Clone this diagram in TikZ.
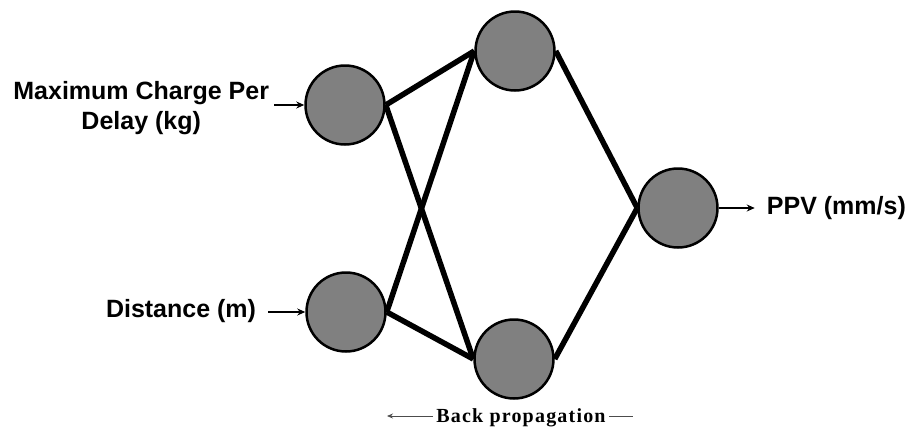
\documentclass[tikz,border=0pt]{standalone}
\usepackage{fontspec}
\setmainfont{Liberation Sans}
\newfontfamily\bpfont[LetterSpace=6]{Liberation Serif}
\usetikzlibrary{arrows.meta,positioning}
\definecolor{nodegray}{RGB}{128,128,128}

\begin{document}
\begin{tikzpicture}[x=1pt, y=-1pt,
  neuron/.style={draw, circle, fill=nodegray, line width=2.5pt, minimum size=79pt, inner sep=0pt},
  link/.style={line width=5.5pt},
  inarr/.style={-{Stealth[length=8pt,width=7pt]}, line width=2pt},
  lbl/.style={font=\fontsize{25}{30}\selectfont\bfseries, align=center, inner sep=5pt}
]
\useasboundingbox (0,0) rectangle (908,426);
% neurons
\node[neuron] (in1) at (345,105) {};
\node[neuron] (in2) at (346,312) {};
\node[neuron] (hid1) at (515,51) {};
\node[neuron] (hid2) at (514,359) {};
\node[neuron] (out) at (678,208) {};
% weights
\draw[link] (in1.east) -- (hid1.west);
\draw[link] (in1.east) -- (hid2.west);
\draw[link] (in2.east) -- (hid1.west);
\draw[link] (in2.east) -- (hid2.west);
\draw[link] (hid1.east) -- (out.west);
\draw[link] (hid2.east) -- (out.west);
% inputs and output
\node[lbl, left=30pt of in1, yshift=-3pt] (charge) {Maximum Charge Per\\Delay (kg)};
\node[lbl, left=37pt of in2, yshift=1pt, inner sep=12pt] (dist) {Distance (m)};
\node[lbl, right=36pt of out, inner sep=12pt] (ppv) {PPV (mm/s)};
\draw[inarr] (charge.east |- in1) -- (in1.west);
\draw[inarr] (dist.east |- in2) -- (in2.west);
\draw[inarr] (out.east) -- (ppv.west);
% back propagation
\node[font=\fontsize{20}{22}\bpfont\bfseries, inner sep=3pt] (bp) at (521,418) {Back propagation};
\coordinate (bpl) at (387,416);
\coordinate (bpr) at (633,416);
\draw[-{Stealth[length=6pt,width=5pt]}, line width=0.8pt, black!70] (bp.west |- bpl) -- (bpl);
\draw[line width=0.8pt, black!70] (bp.east |- bpr) -- (bpr);
\end{tikzpicture}
\end{document}
